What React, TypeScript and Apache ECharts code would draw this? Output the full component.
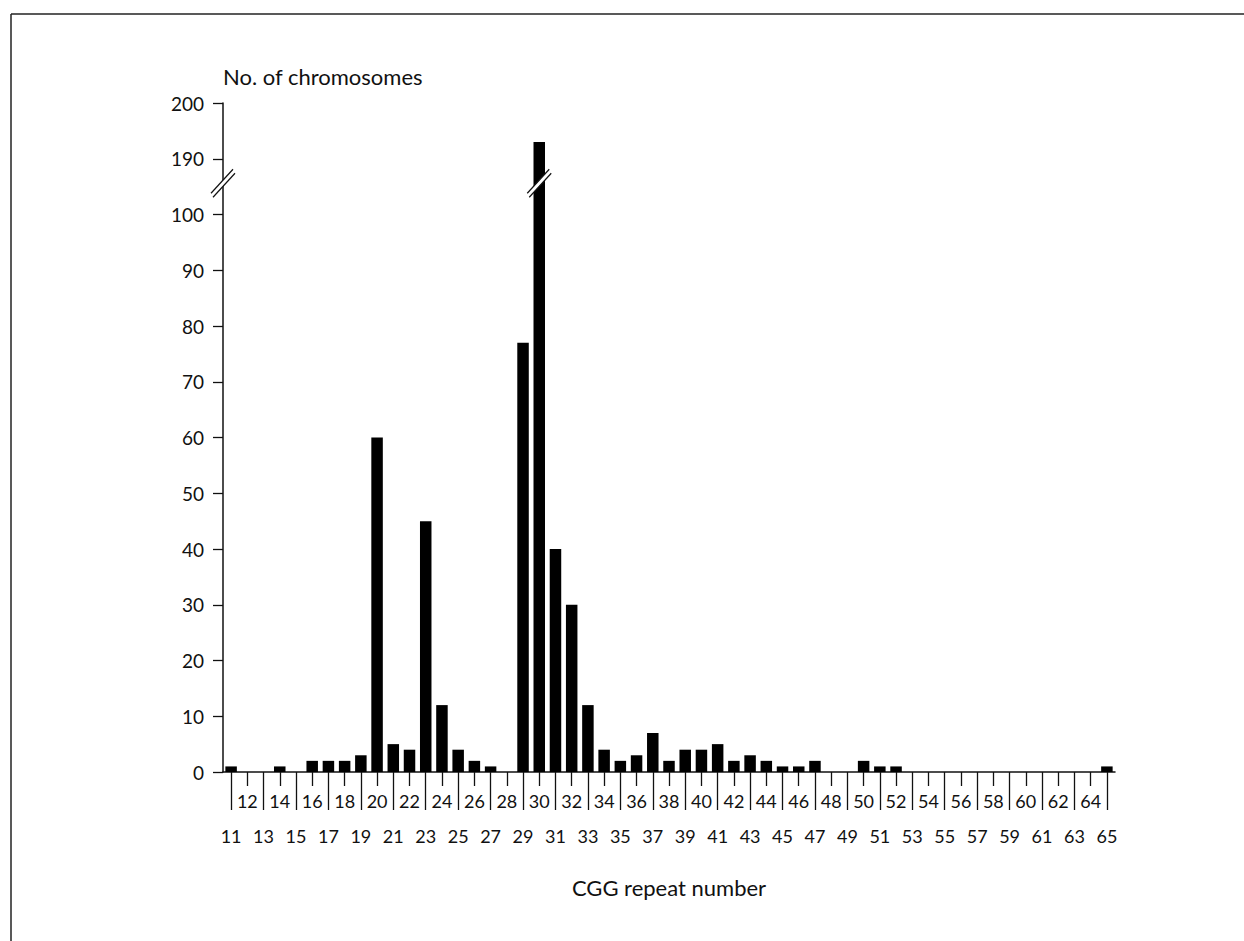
import React, { useEffect, useRef } from "react";
import * as echarts from "echarts";

// CGG repeat numbers (categories)
const repeatNumbers: string[] = [
  "11","12","13","14","15","16","17","18","19","20",
  "21","22","23","24","25","26","27","28","29","30",
  "31","32","33","34","35","36","37","38","39","40",
  "41","42","43","44","45","46","47","48","49","50",
  "51","52","53","54","55","56","57","58","59","60",
  "61","62","63","64","65",
];

// Number of chromosomes per repeat number
const chromosomeCounts: number[] = [
  1, 0, 0, 1, 0, 2, 2, 2, 3, 60,
  5, 4, 45, 12, 4, 2, 1, 0, 77, 193,
  40, 30, 12, 4, 2, 3, 7, 2, 4, 4,
  5, 2, 3, 2, 1, 1, 2, 0, 0, 2,
  1, 1, 0, 0, 0, 0, 0, 0, 0, 0,
  0, 0, 0, 0, 1,
];

// Broken y axis: values above BREAK_FROM are shifted down by BREAK_SHIFT
const BREAK_FROM = 100;
const BREAK_SHIFT = 80;
const yTickValues: number[] = [0, 10, 20, 30, 40, 50, 60, 70, 80, 90, 100, 190, 200];
const breakMarkValue = 185.6; // where the double slash sits (in real units)
const brokenBarCategory = "30";

const toAxis = (v: number) => (v > BREAK_FROM ? v - BREAK_SHIFT : v);
const fromAxis = (v: number) => (v > BREAK_FROM ? v + BREAK_SHIFT : v);

const FONT = "Lato, 'Open Sans', sans-serif";
const INK = "#111";

export default function App() {
  const ref = useRef<HTMLDivElement>(null);

  useEffect(() => {
    if (!ref.current) return;
    const chart = echarts.init(ref.current, undefined, { renderer: "svg" });
    const gridLeft = 223;
    const option: any = {
      animation: false,
      backgroundColor: "#fff",
      grid: { left: gridLeft, top: 103, width: 892, height: 669, containLabel: false },
      xAxis: [
        {
          type: "category",
          data: repeatNumbers,
          position: "bottom",
          boundaryGap: true,
          axisLine: { show: true, lineStyle: { color: INK, width: 1.5 } },
          axisTick: {
            show: true,
            alignWithLabel: true,
            interval: (i: number) => i % 2 === 0,
            length: 38,
            lineStyle: { color: INK, width: 1.3 },
          },
          axisLabel: {
            interval: (i: number) => i % 2 === 0,
            margin: 55,
            fontSize: 18,
            fontFamily: FONT,
            color: INK,
          },
          name: "CGG repeat number",
          nameLocation: "middle",
          nameGap: 104,
          nameTextStyle: { fontSize: 22, fontFamily: FONT, color: INK },
        },
        {
          type: "category",
          data: repeatNumbers,
          position: "bottom",
          offset: 0,
          boundaryGap: true,
          axisLine: { show: false },
          axisTick: {
            show: true,
            alignWithLabel: true,
            interval: (i: number) => i % 2 === 1,
            length: 14,
            lineStyle: { color: INK, width: 1.3 },
          },
          axisLabel: {
            interval: (i: number) => i % 2 === 1,
            margin: 20,
            fontSize: 18,
            fontFamily: FONT,
            color: INK,
          },
        },
      ],
      yAxis: {
        type: "value",
        min: 0,
        max: toAxis(yTickValues[yTickValues.length - 1]),
        interval: 10,
        axisLine: { show: true, lineStyle: { color: INK, width: 1.5 } },
        axisTick: { show: true, length: 10, lineStyle: { color: INK, width: 1.3 } },
        axisLabel: {
          margin: 19,
          fontSize: 19,
          fontFamily: FONT,
          color: INK,
          formatter: (v: number) => String(fromAxis(v)),
        },
        splitLine: { show: false },
        name: "No. of chromosomes",
        nameLocation: "end",
        nameGap: 16,
        nameTextStyle: { fontSize: 22, fontFamily: FONT, color: INK, align: "left" },
      },
      series: [
        {
          type: "bar",
          xAxisIndex: 0,
          yAxisIndex: 0,
          data: chromosomeCounts.map(toAxis),
          barWidth: 11.5,
          itemStyle: { color: "#000" },
        },
      ],
    };
    chart.setOption(option);

    // Break marks positioned through the chart's own scales
    const yBreak = chart.convertToPixel({ yAxisIndex: 0 }, toAxis(breakMarkValue)) as number;
    const xBar = chart.convertToPixel({ xAxisIndex: 0 }, brokenBarCategory) as number;
    const breakMark = (cx: number, cy: number) => {
      const d = [11, -12];
      const a1 = [cx - 1 - d[0], cy - 2 - d[1]];
      const b1 = [cx - 1 + d[0], cy - 2 + d[1]];
      const a2 = [cx + 1 - d[0], cy + 2 - d[1]];
      const b2 = [cx + 1 + d[0], cy + 2 + d[1]];
      return [
        { type: "polygon", z: 100, shape: { points: [a1, b1, b2, a2] }, style: { fill: "#fff" } },
        { type: "line", z: 101, shape: { x1: a1[0], y1: a1[1], x2: b1[0], y2: b1[1] }, style: { stroke: INK, lineWidth: 1.2 } },
        { type: "line", z: 101, shape: { x1: a2[0], y1: a2[1], x2: b2[0], y2: b2[1] }, style: { stroke: INK, lineWidth: 1.2 } },
      ];
    };
    chart.setOption({
      graphic: [
        ...breakMark(gridLeft, yBreak),
        ...breakMark(xBar, yBreak),
        // figure frame
        { type: "line", z: 101, shape: { x1: 11, y1: 14, x2: 1244, y2: 14 }, style: { stroke: "#222", lineWidth: 1.5 } },
        { type: "line", z: 101, shape: { x1: 11, y1: 14, x2: 11, y2: 941 }, style: { stroke: "#222", lineWidth: 1.5 } },
      ],
    });

    return () => chart.dispose();
  }, []);

  return (
    <div
      ref={ref}
      style={{ position: "absolute", left: 0, top: 0, width: 1244, height: 941, background: "#fff" }}
    />
  );
}
